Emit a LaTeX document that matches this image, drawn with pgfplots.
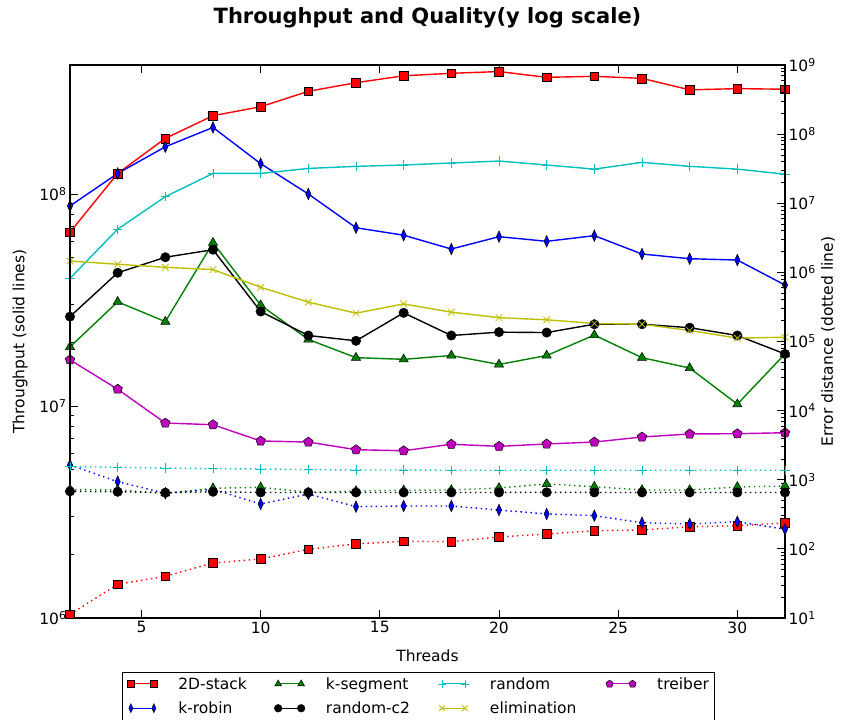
\documentclass[border=0pt]{standalone}
\usepackage{fontspec}
\setmainfont{DejaVu Sans}
\usepackage{pgfplots}
\pgfplotsset{compat=1.18}
\definecolor{mred}{rgb}{1,0,0}
\definecolor{mblue}{rgb}{0,0,1}
\definecolor{mgreen}{rgb}{0,0.5,0}
\definecolor{mcyan}{rgb}{0,0.75,0.75}
\definecolor{myellow}{rgb}{0.75,0.75,0}
\definecolor{mmagenta}{rgb}{0.75,0,0.75}
\newcommand{\fs}{\fontsize{15.5}{18}\selectfont}
\tikzset{
  pAa/.style={mred, line width=1.4pt, mark=square*, mark size=4.4pt, mark options={solid, fill=mred, draw=black, line width=0.5pt}},
  pBb/.style={mblue, line width=1.4pt, mark=diamond*, mark size=5.8pt, mark options={solid, fill=mblue, draw=black, line width=0.5pt, xscale=0.6}},
  pCc/.style={mgreen, line width=1.4pt, mark=triangle*, mark size=5.3pt, mark options={solid, fill=mgreen, draw=black, line width=0.5pt}},
  pDd/.style={black, line width=1.4pt, mark=*, mark size=4.7pt, mark options={solid, fill=black, draw=black, line width=0.5pt}},
  pEe/.style={mcyan, line width=1.4pt, mark=+, mark size=4.7pt, mark options={solid, mcyan, line width=0.8pt}},
  pFf/.style={myellow, line width=1.4pt, mark=x, mark size=4.7pt, mark options={solid, myellow, line width=0.8pt}},
  pGg/.style={mmagenta, line width=1.4pt, mark=pentagon*, mark size=5pt, mark options={solid, fill=mmagenta, draw=black, line width=0.5pt}},
  pDot/.style={dash pattern=on 1.4pt off 3.6pt},
}
\pgfplotsset{
  myLegImg/.style={legend image code/.code={\draw[##1] plot coordinates {(0pt,0pt) (23pt,0pt)};}},
}
\begin{document}
\begin{tikzpicture}
\useasboundingbox (-70pt,-102pt) rectangle (774pt,618pt);
\begin{axis}[
  at={(0,0)}, anchor=south west, scale only axis,
  width=715pt, height=553pt, xmin=2, xmax=32, ymode=log,
  tick align=inside, major tick length=8pt, minor tick length=4pt,
  every tick/.style={black, line width=0.8pt},
  axis line style={line width=1.2pt},
  tick label style={font=\fs}, label style={font=\fs},
  ymin=1e6, ymax=4.06e8,
  xtick={5,10,15,20,25,30}, xticklabels={5,10,15,20,25,30}, xtick pos=both,
  ytick={1e6,1e7,1e8}, yticklabels={10\textsuperscript{6},10\textsuperscript{7},10\textsuperscript{8}},
  ytick pos=left,
  xlabel={Threads}, ylabel={Throughput (solid lines)},
  xlabel style={at={(axis description cs:0.5,-0.0687)}, anchor=center},
  ylabel style={at={(axis description cs:-0.0699,0.5)}, anchor=center},
  title={Throughput and Quality(y log scale)},
  title style={at={(axis description cs:0.5,1.075)}, anchor=center, font=\bfseries\fontsize{21}{24}\selectfont},
  legend columns=4, myLegImg,
  legend style={at={(axis description cs:0.0727,-0.0976)}, anchor=north west,
    draw=black, line width=0.8pt, font=\fs, inner xsep=5pt, inner ysep=5pt, row sep=11pt,
    nodes={inner sep=0pt, anchor=west},
    /tikz/every odd column/.append style={column sep=21pt},
    /tikz/every even column/.append style={column sep=10pt}},
]
\addplot[pAa, forget plot] coordinates {(2,6.6e7)(4,1.25e8)(6,1.83e8)(8,2.34e8)(10,2.58e8)(12,3.05e8)(14,3.35e8)(16,3.61e8)(18,3.71e8)(20,3.78e8)(22,3.55e8)(24,3.59e8)(26,3.51e8)(28,3.10e8)(30,3.14e8)(32,3.12e8)};
\addplot[pBb, forget plot] coordinates {(2,8.78e7)(4,1.25e8)(6,1.67e8)(8,2.06e8)(10,1.39e8)(12,1.0e8)(14,6.93e7)(16,6.39e7)(18,5.50e7)(20,6.29e7)(22,5.98e7)(24,6.36e7)(26,5.21e7)(28,4.95e7)(30,4.88e7)(32,3.72e7)};
\addplot[pCc, forget plot] coordinates {(2,1.90e7)(4,3.10e7)(6,2.50e7)(8,5.89e7)(10,2.99e7)(12,2.06e7)(14,1.69e7)(16,1.66e7)(18,1.73e7)(20,1.57e7)(22,1.73e7)(24,2.16e7)(26,1.69e7)(28,1.51e7)(30,1.02e7)(32,1.76e7)};
\addplot[pDd, forget plot] coordinates {(2,2.64e7)(4,4.25e7)(6,5.03e7)(8,5.46e7)(10,2.79e7)(12,2.15e7)(14,2.03e7)(16,2.75e7)(18,2.15e7)(20,2.23e7)(22,2.22e7)(24,2.43e7)(26,2.43e7)(28,2.34e7)(30,2.15e7)(32,1.76e7)};
\addplot[pEe, forget plot] coordinates {(2,4.0e7)(4,6.82e7)(6,9.71e7)(8,1.25e8)(10,1.25e8)(12,1.32e8)(14,1.35e8)(16,1.37e8)(18,1.40e8)(20,1.43e8)(22,1.37e8)(24,1.31e8)(26,1.41e8)(28,1.35e8)(30,1.31e8)(32,1.24e8)};
\addplot[pFf, forget plot] coordinates {(2,4.83e7)(4,4.66e7)(6,4.51e7)(8,4.40e7)(10,3.63e7)(12,3.09e7)(14,2.74e7)(16,3.03e7)(18,2.77e7)(20,2.61e7)(22,2.55e7)(24,2.45e7)(26,2.43e7)(28,2.27e7)(30,2.09e7)(32,2.11e7)};
\addplot[pGg, forget plot] coordinates {(2,1.65e7)(4,1.20e7)(6,8.31e6)(8,8.16e6)(10,6.84e6)(12,6.76e6)(14,6.22e6)(16,6.15e6)(18,6.60e6)(20,6.45e6)(22,6.62e6)(24,6.76e6)(26,7.14e6)(28,7.38e6)(30,7.40e6)(32,7.48e6)};
\addlegendimage{pAa, line width=1pt, mark size=3.5pt}\addlegendentry{\makebox[86pt][l]{2D-stack}}
\addlegendimage{pCc, line width=1pt, mark size=4pt}\addlegendentry{\makebox[102pt][l]{k-segment}}
\addlegendimage{pEe, line width=1pt, mark size=4pt}\addlegendentry{\makebox[106pt][l]{random}}
\addlegendimage{pGg, line width=1pt, mark size=3.8pt}\addlegendentry{treiber}
\addlegendimage{pBb, line width=1pt, mark size=4.5pt}\addlegendentry{k-robin}
\addlegendimage{pDd, line width=1pt, mark size=3.8pt}\addlegendentry{random-c2}
\addlegendimage{pFf, line width=1pt, mark size=4pt}\addlegendentry{elimination}
\end{axis}
\begin{axis}[
  at={(0,0)}, anchor=south west, scale only axis,
  width=715pt, height=553pt, xmin=2, xmax=32, ymode=log,
  tick align=inside, major tick length=8pt, minor tick length=4pt,
  every tick/.style={black, line width=0.8pt},
  axis line style={line width=1.2pt},
  tick label style={font=\fs}, label style={font=\fs},
  ymin=10, ymax=1e9,
  xtick=\empty,
  ytick={1e1,1e2,1e3,1e4,1e5,1e6,1e7,1e8,1e9},
  yticklabels={10\textsuperscript{1},10\textsuperscript{2},10\textsuperscript{3},10\textsuperscript{4},10\textsuperscript{5},10\textsuperscript{6},10\textsuperscript{7},10\textsuperscript{8},10\textsuperscript{9}},
  ytick pos=right, yticklabel pos=right,
  ylabel={Error distance (dotted line)},
  ylabel style={at={(axis description cs:1.060,0.5)}, anchor=center},
]
\addplot[pAa, pDot] coordinates {(2,11.3)(4,30.7)(6,40.1)(8,62.5)(10,71.4)(12,98.6)(14,118)(16,129)(18,127)(20,149)(22,164)(24,183)(26,188)(28,209)(30,216)(32,237)};
\addplot[pBb, pDot] coordinates {(2,1635)(4,937)(6,637)(8,728)(10,446)(12,622)(14,408)(16,417)(18,417)(20,365)(22,320)(24,302)(26,239)(28,229)(30,247)(32,192)};
\addplot[pCc, pDot] coordinates {(2,723)(4,711)(6,637)(8,752)(10,778)(12,658)(14,688)(16,704)(18,711)(20,760)(22,868)(24,794)(26,711)(28,711)(30,786)(32,812)};
\addplot[pDd, pDot] coordinates {(2,680)(4,670)(6,650)(8,670)(10,655)(12,655)(14,655)(16,655)(18,655)(20,655)(22,658)(24,655)(26,655)(28,655)(30,655)(32,655)};
\addplot[pEe, pDot] coordinates {(2,1545)(4,1514)(6,1479)(8,1445)(10,1432)(12,1399)(14,1384)(16,1384)(18,1370)(20,1370)(22,1370)(24,1370)(26,1370)(28,1370)(30,1370)(32,1370)};
\end{axis}
\end{tikzpicture}
\end{document}
